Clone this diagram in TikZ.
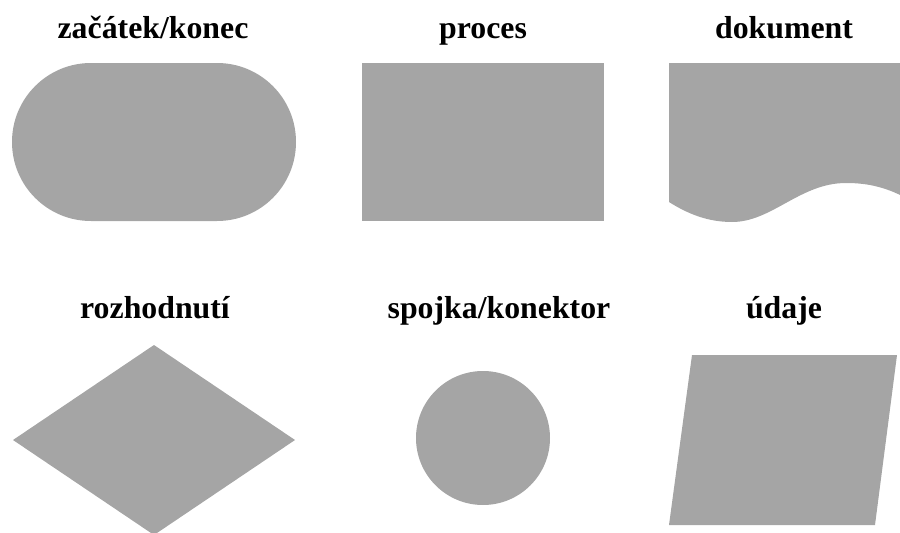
\documentclass[tikz,border=0pt]{standalone}
\usepackage{fontspec}
\setmainfont{Liberation Serif}
\definecolor{shapegray}{HTML}{A5A5A5}
\begin{document}
\begin{tikzpicture}[x=1pt,y=-1pt,
  title/.style={font=\bfseries\fontsize{31.8}{36}\selectfont, anchor=base, inner sep=0pt},
  shapefill/.style={fill=shapegray, draw=none}]
\useasboundingbox (0,0) rectangle (900,533);
\clip (0,0) rectangle (900,533);

% titles
\node[title] (t1) at (153,38) {začátek/konec};
\node[title] (t2) at (483,38) {proces};
\node[title] (t3) at (784,38) {dokument};
\node[title] (t4) at (155,318) {rozhodnutí};
\node[title] (t5) at (499,318) {spojka/konektor};
\node[title] (t6) at (784,318) {údaje};

% terminator
\fill[shapefill, rounded corners=78.9pt] (12,63) rectangle (296,221);

% process
\fill[shapefill] (362,63) rectangle (604,221);

% document
\fill[shapefill] (669,63) -- (669,202)
  .. controls (688,214) and (708,222) .. (732,222)
  .. controls (772,222) and (800,183) .. (846,183)
  .. controls (870,183) and (888,188) .. (910,200)
  -- (910,63) -- cycle;

% decision
\fill[shapefill] (154,345) -- (295,440) -- (154,535) -- (13,440) -- cycle;

% connector
\fill[shapefill] (483,438) circle[radius=67];

% data
\fill[shapefill] (692,355) -- (897,355) -- (875,525) -- (669,525) -- cycle;
\end{tikzpicture}
\end{document}
